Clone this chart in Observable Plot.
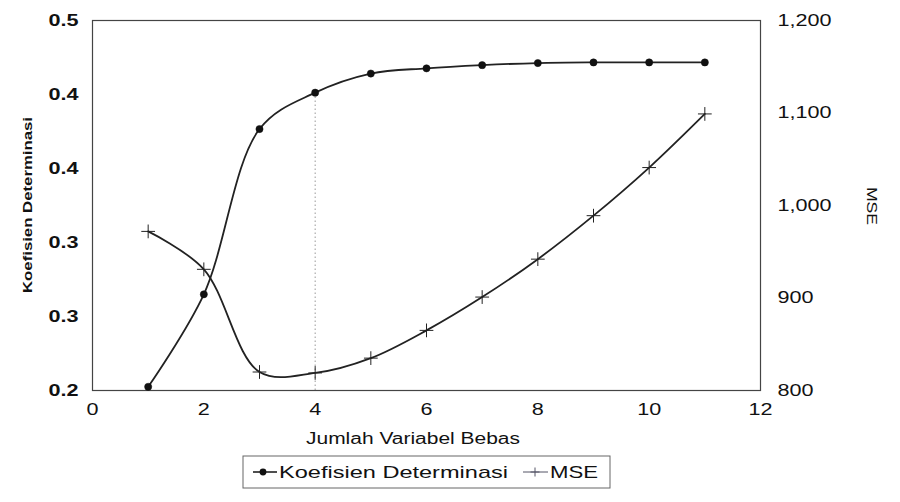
<!DOCTYPE html>
<html><head><meta charset="utf-8">
<script src="https://cdn.jsdelivr.net/npm/d3@7"></script>
<script src="https://cdn.jsdelivr.net/npm/@observablehq/plot@0.6"></script>
<style>
html,body{margin:0;padding:0;background:#fff;}
#chart{width:900px;height:502px;overflow:hidden;}
</style></head><body><div id="chart"></div>
<script>
const xValues = [1, 2, 3, 4, 5, 6, 7, 8, 9, 10, 11];
const koefisien = [0.203, 0.278, 0.412, 0.4415, 0.457, 0.4612, 0.4638, 0.4655, 0.466, 0.466, 0.466];
const mse = [972, 931, 820, 819, 835, 865, 901, 942, 989, 1041, 1099];
const xTicks = [0, 2, 4, 6, 8, 10, 12];
const xTickLabels = ["0", "2", "4", "6", "8", "10", "12"];
const leftTicks = [0.2, 0.26, 0.32, 0.38, 0.44, 0.5];
const leftTickLabels = ["0.2", "0.3", "0.3", "0.4", "0.4", "0.5"];
const mseTicks = [800, 900, 1000, 1100, 1200];
const mseTickLabels = ["800", "900", "1,000", "1,100", "1,200"];
const seriesNames = ["Koefisien Determinasi", "MSE"];
const xTitle = "Jumlah Variabel Bebas";
const leftTitle = "Koefisien Determinasi";
const rightTitle = "MSE";
const highlightX = 4;

const FONT = '"Liberation Sans", Arial, Helvetica, sans-serif';
const yDomain = [0.2, 0.5];
const mseDomain = [800, 1200];
const mseToY = v => yDomain[0] + (v - mseDomain[0]) / (mseDomain[1] - mseDomain[0]) * (yDomain[1] - yDomain[0]);
const lookup = (ticks, labels) => d => labels[ticks.findIndex(t => Math.abs(t - d) < 1e-9)] ?? "";

const kdData = xValues.map((x, i) => ({x, y: koefisien[i]}));
const mseData = xValues.map((x, i) => ({x, y: mseToY(mse[i])}));
const hl = kdData.filter(d => d.x === highlightX);
const mseTickPos = mseTicks.map(mseToY);

const plot = Plot.plot({
  width: 900, height: 502,
  marginLeft: 92, marginRight: 140, marginTop: 20, marginBottom: 112,
  style: {fontFamily: FONT, fontSize: "16px", color: "#111", background: "#fff", overflow: "visible"},
  x: {domain: [0, 12]},
  y: {domain: yDomain},
  marks: [
    Plot.ruleX(hl, {x: "x", y1: yDomain[0], y2: "y", stroke: "#999", strokeDasharray: "1.5,2.5", strokeWidth: 1}),
    Plot.frame({stroke: "#444", strokeWidth: 1.2}),
    Plot.line(kdData, {x: "x", y: "y", curve: "catmull-rom", stroke: "#222", strokeWidth: 1.8}),
    Plot.line(mseData, {x: "x", y: "y", curve: "catmull-rom", stroke: "#222", strokeWidth: 1.8}),
    Plot.dot(kdData, {x: "x", y: "y", r: 3.6, fill: "#111", stroke: "#111", strokeWidth: 0.5}),
    Plot.dot(mseData, {x: "x", y: "y", symbol: "plus", r: 4.5, stroke: "#222", strokeWidth: 1}),
    Plot.axisX({ticks: xTicks, tickSize: 0, tickPadding: 13, tickFormat: lookup(xTicks, xTickLabels), label: null}),
    Plot.axisY({anchor: "left", ticks: leftTicks, tickSize: 0, tickPadding: 14, tickFormat: lookup(leftTicks, leftTickLabels), label: null, fontWeight: "bold"}),
    Plot.axisY({anchor: "right", ticks: mseTickPos, tickSize: 0, tickPadding: 17, tickFormat: lookup(mseTickPos, mseTickLabels), label: null})
  ]
});

document.getElementById("chart").append(plot);
const svg = d3.select(plot);
const stretch = 1.35;
svg.selectAll('g[aria-label$="tick label"] text').each(function () {
  const L = this.getComputedTextLength();
  this.setAttribute("textLength", L * stretch);
  this.setAttribute("lengthAdjust", "spacingAndGlyphs");
});

const addText = (str, opts) => {
  const t = svg.append("text").text(str)
    .attr("font-family", FONT).attr("fill", "#111")
    .attr("text-anchor", opts.anchor || "start")
    .attr("font-size", opts.size)
    .attr("font-weight", opts.weight || "normal")
    .attr("transform", opts.transform)
    .attr("lengthAdjust", "spacingAndGlyphs");
  if (opts.length) t.attr("textLength", opts.length);
  return t;
};

addText(xTitle, {anchor: "middle", size: 16, transform: "translate(413,444)", length: 214});
addText(leftTitle, {anchor: "middle", size: 12, weight: "bold", transform: "translate(32,205) rotate(-90)", length: 176});
addText(rightTitle, {anchor: "middle", size: 15, transform: "translate(867,206) rotate(90)", length: 38});

// legend
const lg = svg.append("g");
lg.append("rect").attr("x", 243).attr("y", 456).attr("width", 367).attr("height", 32)
  .attr("fill", "none").attr("stroke", "#666").attr("stroke-width", 1);
lg.append("line").attr("x1", 253).attr("x2", 277).attr("y1", 472).attr("y2", 472).attr("stroke", "#222").attr("stroke-width", 1.6);
lg.append("circle").attr("cx", 263).attr("cy", 472).attr("r", 3.4).attr("fill", "#111");
addText(seriesNames[0], {size: 17, transform: "translate(279,478)", length: 229});
lg.append("line").attr("x1", 523).attr("x2", 548).attr("y1", 472).attr("y2", 472).attr("stroke", "#556").attr("stroke-width", 1);
lg.append("path").attr("d", "M535,467.5V476.5M530.5,472H539.5").attr("stroke", "#556").attr("stroke-width", 1);
addText(seriesNames[1], {size: 17, transform: "translate(550,478)", length: 48});
</script>
</body></html>
